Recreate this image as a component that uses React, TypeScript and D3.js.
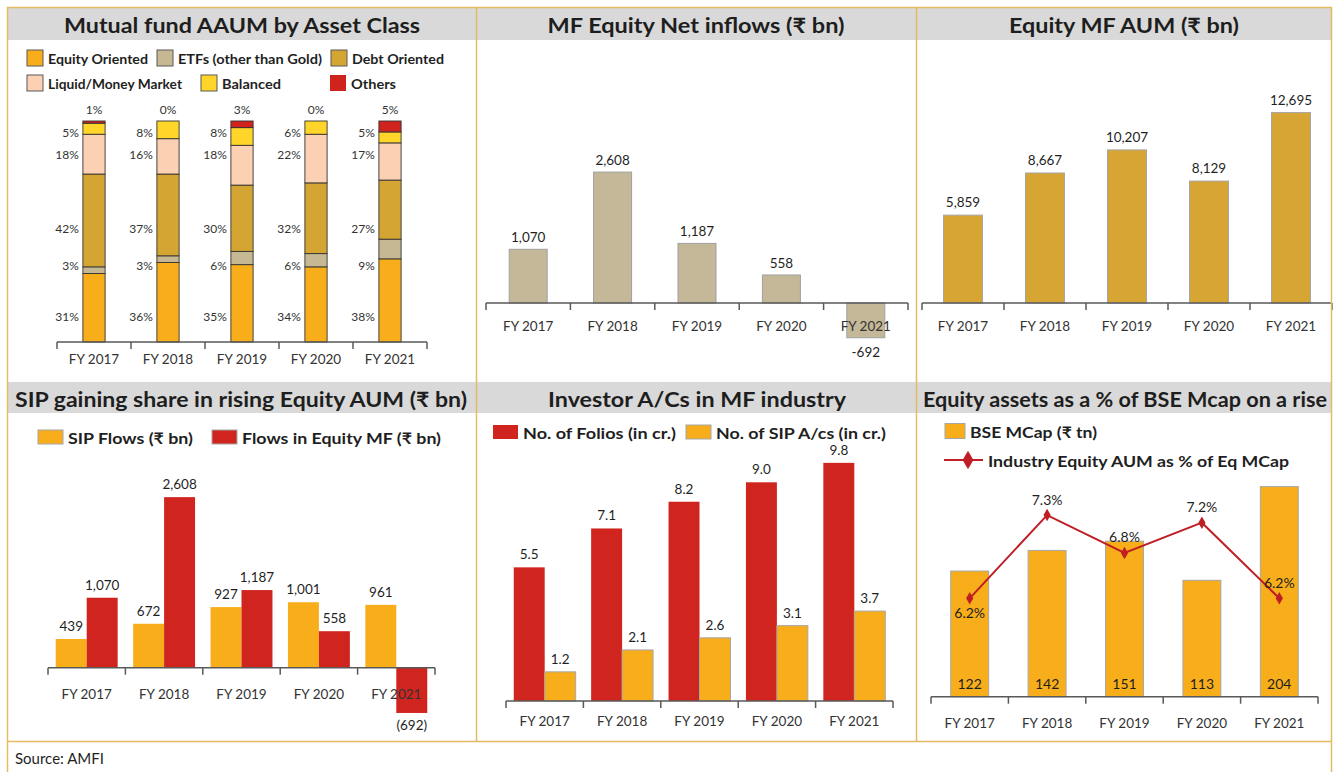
import React from "react";
import * as d3 from "d3";

// ---------------- DATA ----------------
const years = ["FY 2017", "FY 2018", "FY 2019", "FY 2020", "FY 2021"];

// Panel 1 – Mutual fund AAUM by asset class (% share)
const assetClasses = [
  "Equity Oriented",
  "ETFs (other than Gold)",
  "Debt Oriented",
  "Liquid/Money Market",
  "Balanced",
  "Others",
];
const equityShare = [31, 36, 35, 34, 38];
const etfShare = [3, 3, 6, 6, 9];
const debtShare = [42, 37, 30, 32, 27];
const liquidShare = [18, 16, 18, 22, 17];
const balancedShare = [5, 8, 8, 6, 5];
const othersShare = [1, 0, 3, 0, 5];

// Panel 2 – MF Equity net inflows (₹ bn)
const netInflows = [1070, 2608, 1187, 558, -692];

// Panel 3 – Equity MF AUM (₹ bn)
const equityAum = [5859, 8667, 10207, 8129, 12695];

// Panel 4 – SIP flows vs flows in equity MF (₹ bn)
const sipFlows = [439, 672, 927, 1001, 961];
const equityMfFlows = [1070, 2608, 1187, 558, -692];

// Panel 5 – Investor accounts (crore)
const folios = [5.5, 7.1, 8.2, 9.0, 9.8];
const sipAccounts = [1.2, 2.1, 2.6, 3.1, 3.7];

// Panel 6 – BSE Mcap (₹ tn) and equity AUM as % of Mcap
const bseMcap = [122, 142, 151, 113, 204];
const aumPctOfMcap = [6.2, 7.3, 6.8, 7.2, 6.2];

const panelTitles = [
  "Mutual fund AAUM by Asset Class",
  "MF Equity Net inflows (₹ bn)",
  "Equity MF AUM (₹ bn)",
  "SIP gaining share in rising Equity AUM (₹ bn)",
  "Investor A/Cs in MF industry",
  "Equity assets as a % of BSE Mcap on a rise",
];
const sourceNote = "Source: AMFI";

// ---------------- STYLE ----------------
const FONT = "Lato, 'Open Sans', 'DejaVu Sans', sans-serif";
const TXT = "#1F1F1F";
const AXIS = "#595959";
const BORDER = "#E5BB5F";
const TITLE_BG = "#D9D9D9";
const COL = {
  equity: "#F8AE1B",
  etf: "#C7B894",
  debt: "#D5A534",
  liquid: "#FCD0B2",
  balanced: "#FFD52A",
  others: "#D1231D",
  tan: "#C4B898",
  gold: "#D6A534",
  orange: "#F8AE1B",
  red: "#D0251E",
  line: "#BE1E24",
};
const shareKeys = ["equity", "etf", "debt", "liquid", "balanced", "others"];
const shareColors = [COL.equity, COL.etf, COL.debt, COL.liquid, COL.balanced, COL.others];

const fmt0 = d3.format(",.0f");
const fmt1 = d3.format(".1f");

// ---------------- HELPERS ----------------
function CatAxis({ band, y, labelY }) {
  const [r0, r1] = band.range();
  const step = band.step();
  const n = band.domain().length;
  return (
    <g>
      <line x1={r0} x2={r1} y1={y} y2={y} stroke={AXIS} strokeWidth={1.5} />
      {d3.range(n + 1).map((i) => (
        <line key={i} x1={r0 + i * step} x2={r0 + i * step} y1={y} y2={y + 7} stroke={AXIS} strokeWidth={1.5} />
      ))}
      {band.domain().map((d) => (
        <text
          key={d}
          x={band(d) + band.bandwidth() / 2}
          y={labelY}
          textAnchor="middle"
          dominantBaseline="central"
          fontSize={13.5}
          fill="#333"
        >
          {d}
        </text>
      ))}
    </g>
  );
}

function Title({ cx, cy, text, width }) {
  return (
    <text
      x={cx}
      y={cy}
      textAnchor="middle"
      dominantBaseline="central"
      fontSize={21}
      fontWeight="bold"
      fill="#1E1E1E"
      textLength={width}
      lengthAdjust="spacingAndGlyphs"
    >
      {text}
    </text>
  );
}

function LegendItem({ x, y, w, h, color, stroke, label, fontSize, textW }) {
  return (
    <g>
      <rect x={x} y={y - h / 2} width={w} height={h} fill={color} stroke={stroke || "none"} strokeWidth={1} />
      <text
        x={x + w + 5}
        y={y}
        dominantBaseline="central"
        fontSize={fontSize}
        fontWeight="bold"
        fill={TXT}
        textLength={textW}
        lengthAdjust="spacingAndGlyphs"
      >
        {label}
      </text>
    </g>
  );
}

// ---------------- PANELS ----------------
function Panel1() {
  const table = years.map((y, i) => ({
    year: y,
    equity: equityShare[i],
    etf: etfShare[i],
    debt: debtShare[i],
    liquid: liquidShare[i],
    balanced: balancedShare[i],
    others: othersShare[i],
  }));
  const series = d3.stack().keys(shareKeys).offset(d3.stackOffsetExpand)(table);
  const x = d3.scaleBand().domain(years).range([57, 427]).paddingInner(0.7).paddingOuter(0.35);
  const y = d3.scaleLinear().domain([0, 1]).range([342, 121]);
  const labelSlot = [0.115, 0.345, 0.515, 0.85, 0.95];
  const rawShares = [equityShare, etfShare, debtShare, liquidShare, balancedShare, othersShare];
  const legendPos = [
    [27, 58, 100],
    [157, 58, 144],
    [331, 58, 92],
    [27, 83, 134],
    [201, 83, 59],
    [330, 83, 45],
  ];
  return (
    <g>
      {assetClasses.map((a, i) => (
        <LegendItem
          key={a}
          x={legendPos[i][0]}
          y={legendPos[i][1]}
          w={16}
          h={16}
          color={shareColors[i]}
          stroke={i === 5 ? "none" : "#595959"}
          label={a}
          fontSize={14}
          textW={legendPos[i][2]}
        />
      ))}
      {series.map((s, si) =>
        s.map((d) =>
          d[1] - d[0] > 0 ? (
            <rect
              key={si + d.data.year}
              x={x(d.data.year)}
              y={y(d[1])}
              width={x.bandwidth()}
              height={y(d[0]) - y(d[1])}
              fill={shareColors[si]}
              stroke="#333"
              strokeWidth={0.9}
            />
          ) : null
        )
      )}
      {years.map((yr, i) => (
        <g key={yr}>
          {labelSlot.map((slot, k) => (
            <text
              key={k}
              x={x(yr) - 4}
              y={y(slot)}
              textAnchor="end"
              dominantBaseline="central"
              fontSize={12}
              fill="#333"
            >
              {rawShares[k][i]}%
            </text>
          ))}
          <text
            x={x(yr) + x.bandwidth() / 2}
            y={y(1) - 7}
            textAnchor="middle"
            fontSize={12}
            fill="#333"
          >
            {rawShares[5][i]}%
          </text>
        </g>
      ))}
      <CatAxis band={x} y={342} labelY={359} />
    </g>
  );
}

function Panel2() {
  const x = d3.scaleBand().domain(years).range([486, 908]).paddingInner(0.55).paddingOuter(0.275);
  const y = d3.scaleLinear().domain([-1000, 3000]).range([303 + 50.2, 303 - 150.6]);
  return (
    <g>
      {netInflows.map((v, i) => (
        <rect
          key={i}
          x={x(years[i])}
          y={y(Math.max(0, v))}
          width={x.bandwidth()}
          height={Math.abs(y(v) - y(0))}
          fill={COL.tan}
          stroke="#A0A0A0"
          strokeWidth={1}
        />
      ))}
      <CatAxis band={x} y={303} labelY={326} />
      {netInflows.map((v, i) => (
        <text
          key={i}
          x={x(years[i]) + x.bandwidth() / 2}
          y={v >= 0 ? y(v) - 7 : y(v) + 19}
          textAnchor="middle"
          fontSize={13.5}
          fill={TXT}
        >
          {v < 0 ? "-" + fmt0(-v) : fmt0(v)}
        </text>
      ))}
    </g>
  );
}

function Panel3() {
  const x = d3.scaleBand().domain(years).range([922, 1332]).paddingInner(0.525).paddingOuter(0.2625);
  const y = d3.scaleLinear().domain([0, 14000]).range([303, 93]);
  return (
    <g>
      {equityAum.map((v, i) => (
        <g key={i}>
          <rect
            x={x(years[i])}
            y={y(v)}
            width={x.bandwidth()}
            height={y(0) - y(v)}
            fill={COL.gold}
            stroke="#A6A6A6"
            strokeWidth={1}
          />
          <text x={x(years[i]) + x.bandwidth() / 2} y={y(v) - 8} textAnchor="middle" fontSize={13.5} fill={TXT}>
            {fmt0(v)}
          </text>
        </g>
      ))}
      <CatAxis band={x} y={303} labelY={326} />
    </g>
  );
}

function Panel4() {
  const keys = ["sip", "flows"];
  const x = d3.scaleBand().domain(years).range([48, 435]).paddingInner(0.2).paddingOuter(0.1);
  const xs = d3.scaleBand().domain(keys).range([0, x.bandwidth()]);
  const y = d3.scaleLinear().domain([-1000, 3000]).range([667.7 + 65.4, 667.7 - 196.2]);
  const table = years.map((yr, i) => ({ year: yr, sip: sipFlows[i], flows: equityMfFlows[i] }));
  const colors = { sip: COL.orange, flows: COL.red };
  const lbl = (v) => (v < 0 ? `(${fmt0(-v)})` : fmt0(v));
  return (
    <g>
      <LegendItem x={38} y={437} w={25} h={14} color={COL.orange} stroke="#A6A6A6" label="SIP Flows (₹ bn)" fontSize={16} textW={125} />
      <LegendItem x={212} y={437} w={25} h={14} color={COL.red} stroke="#A6A6A6" label="Flows in Equity MF (₹ bn)" fontSize={16} textW={199} />
      {table.map((row) =>
        keys.map((k) => {
          const v = row[k];
          return (
            <rect
              key={row.year + k}
              x={x(row.year) + xs(k)}
              y={y(Math.max(0, v))}
              width={xs.bandwidth()}
              height={Math.abs(y(v) - y(0))}
              fill={colors[k]}
            />
          );
        })
      )}
      <CatAxis band={x} y={667.7} labelY={694} />
      {table.map((row) =>
        keys.map((k) => {
          const v = row[k];
          return (
            <text
              key={"t" + row.year + k}
              x={x(row.year) + xs(k) + xs.bandwidth() / 2}
              y={v >= 0 ? y(v) - 8 : y(v) + 17}
              textAnchor="middle"
              fontSize={13.5}
              fill={TXT}
            >
              {lbl(v)}
            </text>
          );
        })
      )}
    </g>
  );
}

function Panel5() {
  const keys = ["folios", "sip"];
  const x = d3.scaleBand().domain(years).range([506, 893]).paddingInner(0.2).paddingOuter(0.1);
  const xs = d3.scaleBand().domain(keys).range([0, x.bandwidth()]);
  const y = d3.scaleLinear().domain([0, 10]).range([701, 458]);
  const table = years.map((yr, i) => ({ year: yr, folios: folios[i], sip: sipAccounts[i] }));
  const colors = { folios: COL.red, sip: COL.orange };
  const strokes = { folios: "none", sip: "#A6A6A6" };
  return (
    <g>
      <LegendItem x={493} y={432} w={25} h={14} color={COL.red} label="No. of Folios (in cr.)" fontSize={16} textW={153} />
      <LegendItem x={686} y={432} w={25} h={14} color={COL.orange} stroke="#A6A6A6" label="No. of SIP A/cs (in cr.)" fontSize={16} textW={170} />
      {table.map((row) =>
        keys.map((k) => (
          <g key={row.year + k}>
            <rect
              x={x(row.year) + xs(k)}
              y={y(row[k])}
              width={xs.bandwidth()}
              height={y(0) - y(row[k])}
              fill={colors[k]}
              stroke={strokes[k]}
              strokeWidth={1}
            />
            <text
              x={x(row.year) + xs(k) + xs.bandwidth() / 2}
              y={y(row[k]) - 8}
              textAnchor="middle"
              fontSize={13.5}
              fill={TXT}
            >
              {fmt1(row[k])}
            </text>
          </g>
        ))
      )}
      <CatAxis band={x} y={701} labelY={721} />
    </g>
  );
}

function Panel6() {
  const x = d3.scaleBand().domain(years).range([931, 1318]).paddingInner(0.51).paddingOuter(0.255);
  const y = d3.scaleLinear().domain([0, 250]).range([696.7, 439.2]);
  const y2 = d3.scaleLinear().domain([4.9, 7.9]).range([696.7, 469.7]);
  const cx = (i) => x(years[i]) + x.bandwidth() / 2;
  const line = d3
    .line()
    .x((d, i) => cx(i))
    .y((d) => y2(d));
  const diamond = d3.symbol().type(d3.symbolDiamond).size(45)();
  const labelBelow = [true, false, false, false, false];
  return (
    <g>
      <LegendItem x={945} y={431} w={20} h={15} color={COL.orange} stroke="#A6A6A6" label="BSE MCap (₹ tn)" fontSize={16} textW={127} />
      <g>
        <line x1={944} x2={983} y1={460} y2={460} stroke={COL.line} strokeWidth={2} />
        <path d={diamond} transform="translate(968,460) scale(1.5)" fill={COL.line} />
        <text x={988} y={460} dominantBaseline="central" fontSize={16} fontWeight="bold" fill={TXT} textLength={301} lengthAdjust="spacingAndGlyphs">
          Industry Equity AUM as % of Eq MCap
        </text>
      </g>
      {bseMcap.map((v, i) => (
        <g key={i}>
          <rect
            x={x(years[i])}
            y={y(v)}
            width={x.bandwidth()}
            height={y(0) - y(v)}
            fill={COL.orange}
            stroke="#A6A6A6"
            strokeWidth={1}
          />
          <text x={cx(i)} y={y(0) - 13} textAnchor="middle" dominantBaseline="central" fontSize={14} fill={TXT}>
            {fmt0(v)}
          </text>
        </g>
      ))}
      <path d={line(aumPctOfMcap)} fill="none" stroke={COL.line} strokeWidth={2} />
      {aumPctOfMcap.map((v, i) => (
        <g key={i}>
          <path d={diamond} transform={`translate(${cx(i)},${y2(v)})`} fill={COL.line} />
          <text
            x={cx(i)}
            y={labelBelow[i] ? y2(v) + 14 : y2(v) - 16}
            textAnchor="middle"
            dominantBaseline="central"
            fontSize={14}
            fill={TXT}
          >
            {fmt1(v)}%
          </text>
        </g>
      ))}
      <CatAxis band={x} y={696.7} labelY={723} />
    </g>
  );
}

// ---------------- FRAME ----------------
function Frame() {
  const titleCx = [242, 696, 1124, 241, 697, 1125];
  const titleW = [356, 297, 230, 452, 298, 404];
  return (
    <g>
      <rect x={8} y={8} width={1323} height={32} fill={TITLE_BG} />
      <rect x={8} y={382} width={1323} height={31} fill={TITLE_BG} />
      <line x1={7} x2={1332} y1={7.5} y2={7.5} stroke={BORDER} strokeWidth={1.5} />
      <line x1={7.5} x2={7.5} y1={7} y2={772} stroke={BORDER} strokeWidth={1.5} />
      <line x1={1331.5} x2={1331.5} y1={7} y2={772} stroke={BORDER} strokeWidth={1.5} />
      <line x1={476.5} x2={476.5} y1={7} y2={741.5} stroke={BORDER} strokeWidth={1.5} />
      <line x1={916.5} x2={916.5} y1={7} y2={741.5} stroke={BORDER} strokeWidth={1.5} />
      <line x1={7} x2={1332} y1={741.5} y2={741.5} stroke={BORDER} strokeWidth={1.5} />
      {panelTitles.map((t, i) => (
        <Title key={t} cx={titleCx[i]} cy={i < 3 ? 24 : 398.5} text={t} width={titleW[i]} />
      ))}
      <text x={15} y={758} dominantBaseline="central" fontSize={15} fill={TXT}>
        {sourceNote}
      </text>
    </g>
  );
}

export default function App() {
  return (
    <svg
      width={1333}
      height={772}
      style={{ position: "absolute", left: 0, top: 0, background: "#fff" }}
      fontFamily={FONT}
    >
      <rect width={1333} height={772} fill="#fff" />
      <Panel1 />
      <Panel2 />
      <Panel3 />
      <Panel4 />
      <Panel5 />
      <Panel6 />
      <Frame />
    </svg>
  );
}
